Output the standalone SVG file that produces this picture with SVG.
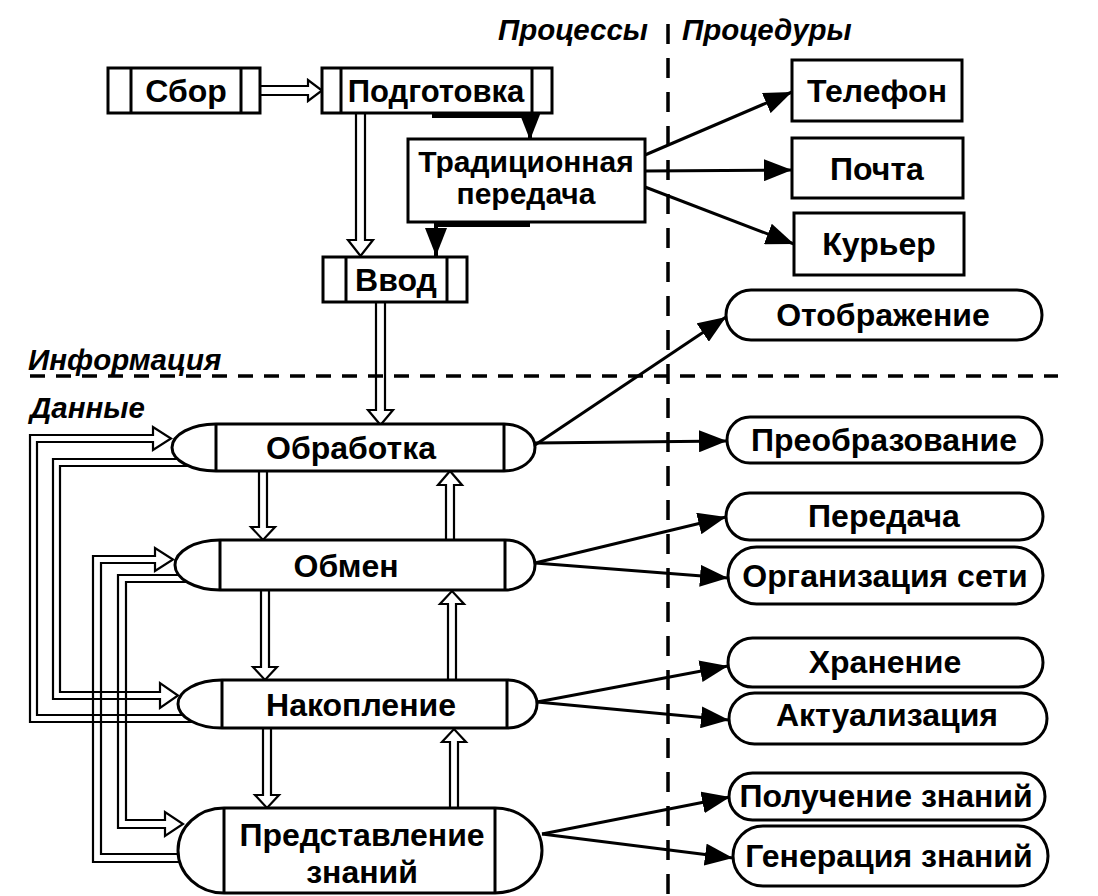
<svg xmlns="http://www.w3.org/2000/svg" width="1098" height="896" viewBox="0 0 1098 896">
<style>
.box{fill:#fff;stroke:#000;stroke-width:3}
.vl{stroke:#000;stroke-width:3;fill:none}
.t{font-family:"Liberation Sans",Arial,sans-serif;font-weight:bold;font-size:32px;text-anchor:middle;fill:#000}
.lbl{font-family:"Liberation Sans",Arial,sans-serif;font-weight:bold;font-style:italic;font-size:29.5px;fill:#000}
.dbl{fill:none;stroke:#000;stroke-width:2.2;stroke-linejoin:miter}
.arr{fill:none;stroke:#000;stroke-width:3;marker-end:url(#ah)}
.bar{fill:none;stroke:#000;stroke-width:4;marker-end:url(#ah)}
.dash{fill:none;stroke:#000;stroke-width:3.5}
</style>
<defs>
<marker id="ah" markerUnits="userSpaceOnUse" viewBox="0 0 28 22" markerWidth="28" markerHeight="22" refX="28" refY="11" orient="auto">
<path d="M0,0 L28,11 L0,22 Z" fill="#000"/>
</marker>
</defs>
<rect width="1098" height="896" fill="#fff"/>

<g id="dividers">
<line class="dash" x1="668" y1="24" x2="668" y2="896" stroke-dasharray="20 14"/>
<line class="dash" x1="30" y1="376" x2="1058" y2="376" stroke-dasharray="15 11" stroke-width="4"/>
</g>

<g id="labels">
<text class="lbl" x="648" y="40" text-anchor="end">Процессы</text>
<text class="lbl" x="682" y="40">Процедуры</text>
<text class="lbl" x="28" y="370">Информация</text>
<text class="lbl" x="30" y="418">Данные</text>
</g>

<g id="connectors">
<path class="dbl" d="M261,86 H308 V80 L322,90.5 L308,101 V95 H261"/>
<path class="dbl" d="M356,113 V240 H348 L360.5,256 L373,240 H365 V113"/>
<path class="dbl" d="M376,302 V410 H368 L380.5,425 L393,410 H385 V302"/>
<path class="dbl" d="M259,471 V527 H251 L263,540 L275,527 H267 V471"/>
<path class="dbl" d="M446,540 V485 H438 L450,471 L462,485 H454 V540"/>
<path class="dbl" d="M261,591 V667 H253 L265,680 L277,667 H269 V591"/>
<path class="dbl" d="M448,680 V604 H440 L452,591 L464,604 H456 V680"/>
<path class="dbl" d="M263,729 V795 H255 L267,808 L279,795 H271 V729"/>
<path class="dbl" d="M450,808 V742 H442 L454,729 L466,742 H458 V808"/>
<path class="dbl" d="M200,722 H30 V435 H153 V427 L171,438.5 L153,450 V442 H37 V715 H200"/>
<path class="dbl" d="M200,459 H53 V699 H160 V708 L178,695.5 L160,683 V692 H60 V466 H200"/>
<path class="dbl" d="M200,862 H93 V556 H155 V548 L173,559.5 L155,571 V563 H101 V854 H200"/>
<path class="dbl" d="M200,575 H118 V828 H165 V836 L183,824 L165,812 V820 H126 V582 H200"/>
<path class="bar" d="M432,116 H530 V140"/>
<path class="bar" d="M530,225 H436 V256"/>
<path class="arr" d="M645,155 L792,92"/>
<path class="arr" d="M645,171 L792,170"/>
<path class="arr" d="M645,187 L794,244"/>
<path class="arr" d="M535,445 L726,317"/>
<path class="arr" d="M535,443 L727,441"/>
<path class="arr" d="M535,563 L726,517"/>
<path class="arr" d="M535,563 L728,578"/>
<path class="arr" d="M537,702 L728,666"/>
<path class="arr" d="M537,702 L729,720"/>
<path class="arr" d="M542,834 L730,797"/>
<path class="arr" d="M542,834 L733,858"/>
</g>

<g id="node-sbor">
<rect class="box" x="108" y="68" width="152" height="45"/>
<line class="vl" x1="131" y1="68" x2="131" y2="113"/>
<line class="vl" x1="241" y1="68" x2="241" y2="113"/>
<text class="t" x="186" y="102">Сбор</text>
</g>
<g id="node-podgotovka">
<rect class="box" x="322" y="68" width="230" height="45"/>
<line class="vl" x1="341" y1="68" x2="341" y2="113"/>
<line class="vl" x1="532" y1="68" x2="532" y2="113"/>
<text class="t" x="436" y="102" style="font-size:31px">Подготовка</text>
</g>
<g id="node-trad">
<rect class="box" x="408" y="139" width="237" height="83"/>
<text class="t" x="526" y="172" style="font-size:30px">Традиционная</text>
<text class="t" x="526" y="204" style="font-size:30px">передача</text>
</g>
<g id="node-vvod">
<rect class="box" x="323" y="257" width="144" height="45"/>
<line class="vl" x1="346" y1="257" x2="346" y2="302"/>
<line class="vl" x1="447" y1="257" x2="447" y2="302"/>
<text class="t" x="396" y="291">Ввод</text>
</g>

<g id="node-telefon">
<rect class="box" x="792" y="60" width="170" height="61"/>
<text class="t" x="877" y="102">Телефон</text>
</g>
<g id="node-pochta">
<rect class="box" x="792" y="138" width="171" height="60"/>
<text class="t" x="877" y="180">Почта</text>
</g>
<g id="node-kurier">
<rect class="box" x="794" y="213" width="170" height="62"/>
<text class="t" x="879" y="255">Курьер</text>
</g>

<g id="node-obrabotka">
<path class="box" d="M216,424 H504 A31,23.5 0 0 1 504,471 H216 A44,23.5 0 0 1 216,424 Z"/>
<line class="vl" x1="216" y1="424" x2="216" y2="471"/>
<line class="vl" x1="504" y1="424" x2="504" y2="471"/>
<text class="t" x="351" y="459">Обработка</text>
</g>
<g id="node-obmen">
<path class="box" d="M220,540 H505 A30,25 0 0 1 505,590 H220 A45,25 0 0 1 220,540 Z"/>
<line class="vl" x1="220" y1="540" x2="220" y2="590"/>
<line class="vl" x1="505" y1="540" x2="505" y2="590"/>
<text class="t" x="346" y="577">Обмен</text>
</g>
<g id="node-nakoplenie">
<path class="box" d="M222,680 H507 A30,24 0 0 1 507,728 H222 A44,24 0 0 1 222,680 Z"/>
<line class="vl" x1="222" y1="680" x2="222" y2="728"/>
<line class="vl" x1="507" y1="680" x2="507" y2="728"/>
<text class="t" x="361" y="716">Накопление</text>
</g>
<g id="node-predstavlenie">
<path class="box" d="M224,808 H495 A47,42.5 0 0 1 495,893 H224 A46,42.5 0 0 1 224,808 Z"/>
<line class="vl" x1="224" y1="808" x2="224" y2="893"/>
<line class="vl" x1="495" y1="808" x2="495" y2="893"/>
<text class="t" x="362" y="846">Представление</text>
<text class="t" x="362" y="883">знаний</text>
</g>

<g id="node-otobrazhenie">
<rect class="box" x="726" y="290" width="316" height="50" rx="25"/>
<text class="t" x="883" y="326">Отображение</text>
</g>
<g id="node-preobrazovanie">
<rect class="box" x="727" y="417" width="315" height="46" rx="23"/>
<text class="t" x="884" y="451">Преобразование</text>
</g>
<g id="node-peredacha">
<rect class="box" x="726" y="493" width="317" height="47" rx="23.5"/>
<text class="t" x="884" y="527">Передача</text>
</g>
<g id="node-org">
<rect class="box" x="728" y="547" width="315" height="57" rx="28.5"/>
<text class="t" x="885" y="587">Организация сети</text>
</g>
<g id="node-hranenie">
<rect class="box" x="728" y="638" width="315" height="49" rx="24.5"/>
<text class="t" x="885" y="673">Хранение</text>
</g>
<g id="node-aktual">
<rect class="box" x="729" y="693" width="318" height="51" rx="25.5"/>
<text class="t" x="887" y="726">Актуализация</text>
</g>
<g id="node-poluchenie">
<rect class="box" x="729" y="773" width="316" height="47" rx="23.5"/>
<text class="t" x="886" y="807">Получение знаний</text>
</g>
<g id="node-generacia">
<rect class="box" x="733" y="826" width="315" height="60" rx="30"/>
<text class="t" x="889" y="867">Генерация знаний</text>
</g>
</svg>
